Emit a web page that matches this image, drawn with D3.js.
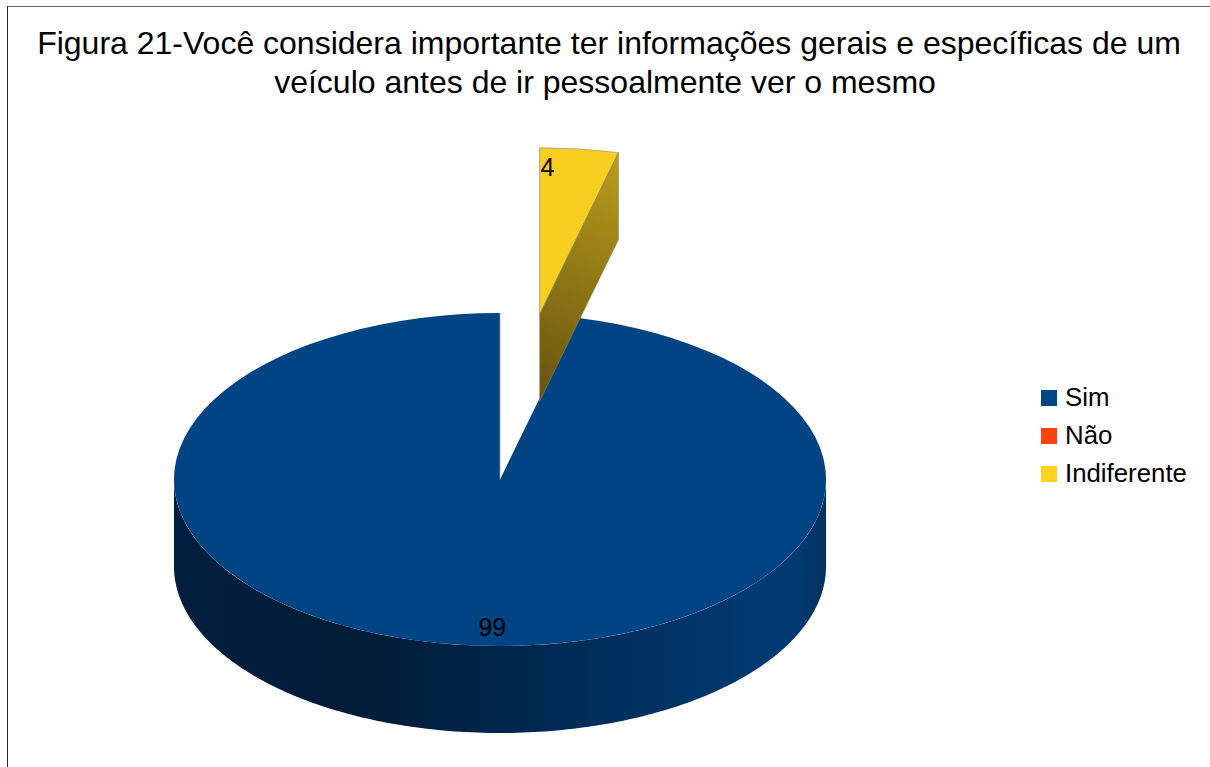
<!DOCTYPE html>
<html lang="pt">
<head>
<meta charset="utf-8">
<script src="https://cdn.jsdelivr.net/npm/d3@7"></script>
<style>
  html, body { margin: 0; padding: 0; background: #fff; }
  svg { display: block; }
  text { font-family: "Liberation Sans", Arial, sans-serif; fill: #000; }
</style>
</head>
<body>
<svg id="chart" width="1210" height="767"></svg>
<script>
// Survey answers
const categories = ["Sim", "Não", "Indiferente"];
const values = [99, 0, 4];
const colors = ["#004586", "#ff420e", "#ffd320"];
const faceColors = ["#004483", "#ff420e", "#f9cf1f"];
const titleLines = [
  "Figura 21-Você considera importante ter informações gerais e específicas de um",
  "veículo antes de ir pessoalmente ver o mesmo"
];

// Tilted disc geometry
const cx = 500, cy = 479.5, rx = 326, ry = 166.5, depth = 87;
const explode = { "Indiferente": 1 };
// Value label nudges from the rim point at each slice's middle angle
const labelNudge = { "Sim": [32, -9], "Indiferente": [-32, 27] };

const svg = d3.select("#chart");

// Frame: only the top and left edges fall inside the page
svg.append("path").attr("d", "M7,6.5H1210").attr("stroke", "#666").attr("stroke-width", 1);
svg.append("path").attr("d", "M7.5,6V767").attr("stroke", "#2a2a2a").attr("stroke-width", 1);

// Title
svg.append("g").selectAll("text").data(titleLines).join("text")
  .attr("x", (d, i) => i === 0 ? 609 : 605)
  .attr("y", (d, i) => 54 + i * 39)
  .attr("text-anchor", "middle")
  .attr("font-size", 32)
  .text(d => d);

// Wall shading
const defs = svg.append("defs");
const addGradient = (id, coords, stops) => {
  const g = defs.append("linearGradient").attr("id", id).attr("gradientUnits", "userSpaceOnUse")
    .attr("x1", coords[0]).attr("y1", coords[1]).attr("x2", coords[2]).attr("y2", coords[3]);
  stops.forEach(s => g.append("stop").attr("offset", s[0]).attr("stop-color", s[1]));
};
addGradient("wallBlue", [174, 560, 826, 560], [
  [0, "#001f3e"], [0.3, "#001c36"], [0.6, "#002b55"],
  [0.88, "#003a71"], [0.96, "#003a70"], [1, "#00315f"]
]);
addGradient("wallYellow", [540, 395, 618, 160], [[0, "#675410"], [1, "#b99b1a"]]);

// Slice angles: the last slice starts at twelve o'clock and runs clockwise
const total = d3.sum(values);
const tau = 2 * Math.PI;
const startAngle = tau * values[values.length - 1] / total;
const pie = d3.pie().sort(null).value(d => d.value)
  .startAngle(startAngle).endAngle(startAngle + tau);
const slices = pie(categories.map((name, i) => ({ name, value: values[i], color: faceColors[i] })))
  .filter(s => s.value > 0);

const arc = d3.arc().innerRadius(0).outerRadius(rx);
const project = (a, r = 1) => [r * rx * Math.sin(a), -r * ry * Math.cos(a)];
const offsetOf = s => {
  const m = (s.startAngle + s.endAngle) / 2;
  return project(m, explode[s.data.name] || 0);
};

// Curved outer wall of the large slice: the front half of the rim
const frontAngles = d3.range(Math.PI / 2, 3 * Math.PI / 2 + 0.001, Math.PI / 180);
const rim = frontAngles.map(a => project(a)).map(p => [p[0] + cx, p[1] + cy]);
svg.append("path")
  .attr("d", d3.line()(rim.concat(rim.map(p => [p[0], p[1] + depth]).reverse())) + "Z")
  .attr("fill", "url(#wallBlue)");

const plot = svg.append("g").attr("transform", `translate(${cx},${cy})`);

slices.forEach(s => {
  const [dx, dy] = offsetOf(s);
  const g = plot.append("g").attr("transform", `translate(${dx},${dy})`);
  const exploded = !!explode[s.data.name];

  // Top face: a circular arc squashed into the tilted ellipse
  g.append("path")
    .attr("d", arc(s))
    .attr("transform", `scale(1,${ry / rx})`)
    .attr("fill", s.data.color)
    .attr("stroke", exploded ? "#b5ab85" : "none")
    .attr("stroke-width", 1)
    .attr("vector-effect", "non-scaling-stroke");

  const edge = project(s.endAngle);
  if (exploded) {
    // Flat cut wall of the exploded slice, seen along its clockwise edge
    const wall = [[0, 0], edge, [edge[0], edge[1] + depth], [0, depth]];
    svg.append("path")
      .attr("d", d3.line()(wall.map(p => [p[0] + cx + dx, p[1] + cy + dy])) + "Z")
      .attr("fill", "url(#wallYellow)")
      .attr("stroke", "#8d8260")
      .attr("stroke-width", 0.6);
  } else {
    // Light seam along the cut edge of the large slice
    g.append("path")
      .attr("d", d3.line()([edge, [0, 0]]))
      .attr("stroke", "#9aa3ad")
      .attr("stroke-width", 0.7)
      .attr("fill", "none");
  }
});

// Value labels
slices.forEach(s => {
  const m = (s.startAngle + s.endAngle) / 2;
  const [ox, oy] = offsetOf(s);
  const [px, py] = project(m);
  const [nx, ny] = labelNudge[s.data.name];
  svg.append("text")
    .attr("x", cx + ox + px + nx)
    .attr("y", cy + oy + py + ny)
    .attr("text-anchor", "middle")
    .attr("font-size", 25)
    .text(s.value);
});

// Legend
const legendY = d3.scalePoint().domain(categories).range([406, 482]);
const legend = svg.append("g").selectAll("g").data(categories).join("g")
  .attr("transform", d => `translate(1041,${legendY(d)})`);
legend.append("rect")
  .attr("y", -16).attr("width", 16).attr("height", 16)
  .attr("fill", (d, i) => colors[i]);
legend.append("text")
  .attr("x", 24)
  .attr("font-size", 25.8)
  .text(d => d);
</script>
</body>
</html>
